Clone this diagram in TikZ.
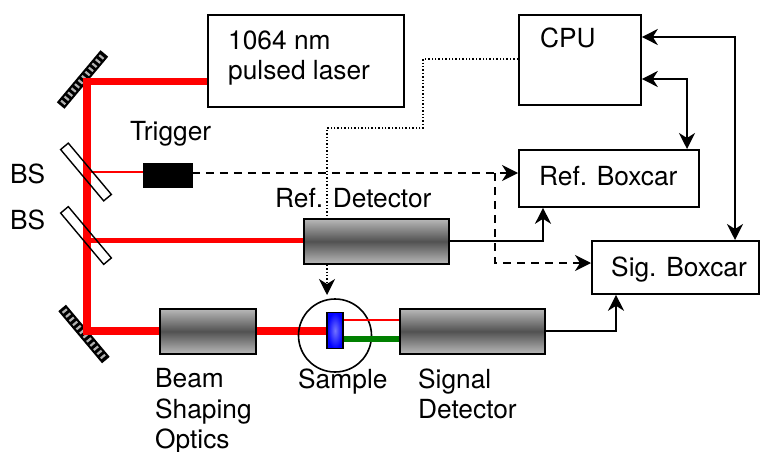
\documentclass[tikz,border=0pt]{standalone}
\usepackage{fontspec}
\setmainfont{TeX Gyre Heros}
\usetikzlibrary{arrows.meta}
\tikzset{
 x=1pt,y=-1pt,
 box/.style={draw=black,line width=1.8pt,fill=white,inner sep=0pt,anchor=north west},
 grad/.style={draw=black,line width=1.8pt,inner sep=0pt,anchor=north west,top color=gray!55,bottom color=gray!55,middle color=black!68,shading angle=0},
 lbl/.style={inner sep=0pt,font=\fontsize{26.3}{30.5}\selectfont,align=left},
 beamthick/.style={draw=red,line width=7.5pt},
 beammid/.style={draw=red,line width=5.5pt},
 beamthin/.style={draw=red,line width=2pt},
 wire/.style={draw=black,line width=1.8pt,-{Stealth[length=16pt,width=16pt,inset=5pt]}},
 wire2/.style={draw=black,line width=1.8pt,{Stealth[length=16pt,width=16pt,inset=5pt]}-{Stealth[length=16pt,width=16pt,inset=5pt]}},
 dwire/.style={wire,dash pattern=on 8pt off 6pt},
 dotw/.style={draw=black,line width=1.4pt,dotted},
 splitter/.style={draw=black,line width=1.4pt,inner sep=0pt,minimum width=67pt,minimum height=10pt,rotate=-50},
}
\newcommand{\hatchmirror}[4]{%
 \begin{scope}[shift={(#1,#2)},rotate=#3]
  \fill[black] (-#4,-5) rectangle (#4,5);
  \foreach \i in {-30,-24.6,...,31}{\draw[white!70!black,line width=2.2pt] (\i,-2.8) -- (\i,2.8);}
 \end{scope}}
\begin{document}
\begin{tikzpicture}
\useasboundingbox (0,0) rectangle (760,452);
\fill[white] (0,0) rectangle (760,452);
\coordinate (mt) at (87,81.5);
\coordinate (mb) at (87,331);
\coordinate (bs1) at (87,172);
\coordinate (bs2) at (87,240.5);
\hatchmirror{82.5}{79.5}{50}{34}
\hatchmirror{84}{334}{-50}{34}
\node[box,minimum width=196pt,minimum height=92pt] (laser) at (207,14) {};
\node[lbl,anchor=base west] at (228,80) {1064 nm\\pulsed laser};
\node[box,minimum width=122pt,minimum height=90pt] (cpu) at (518,14) {};
\node[lbl,anchor=base west] at (540,48) {CPU};
\node[box,minimum width=180pt,minimum height=57pt] (ref) at (518,149) {};
\node[lbl,anchor=base west] at (539,185) {Ref. Boxcar};
\node[box,minimum width=167pt,minimum height=53pt] (sig) at (591,240) {};
\node[lbl,anchor=base west] at (611,276) {Sig. Boxcar};
\node[grad,minimum width=145pt,minimum height=45pt] (rd) at (303,218) {};
\node[grad,minimum width=145pt,minimum height=45pt] (sd) at (399,308) {};
\node[grad,minimum width=96pt,minimum height=45pt] (bso) at (159,308) {};
\node[draw=black,fill=black,minimum width=49pt,minimum height=24pt,inner sep=0pt,anchor=north west] (trig) at (142.5,162.5) {};
\draw[beamthick] (laser.west|-mt) -- (mt) -- (mb) -- (bso.west|-mb);
\draw[beamthin] (bs1) -- (trig.west|-bs1);
\draw[beammid] (bs2) -- (rd.west|-bs2);
\node[splitter] (bsa) at (86,172) {};
\node[splitter] (bsb) at (86,235.5) {};
\coordinate (cuvin) at (330,331);
\draw[beamthick] (bso.east|-mb) -- (cuvin);
\node[draw=black,line width=1.6pt,circle,minimum size=73pt,inner sep=0pt] (samp) at (335,335.5) {};
\coordinate (sr) at (340,320);
\coordinate (sg) at (340,339);
\draw[beamthin] (sr) -- (sd.west|-sr);
\draw[draw=green!50!black,line width=5.5pt] (sg) -- (sd.west|-sg);
\node[draw=black,line width=1.6pt,minimum width=15.5pt,minimum height=36pt,inner sep=0pt,inner color=blue!55!white,outer color=blue] (cuv) at (335,330.5) {};
\node[lbl,anchor=base west] at (130,140) {Trigger};
\node[lbl,anchor=base west] at (10,183) {BS};
\node[lbl,anchor=base west] at (10,229) {BS};
\node[lbl,anchor=base west] at (275,207) {Ref. Detector};
\node[lbl,anchor=base west] at (298,388) {Sample};
\node[lbl,anchor=base west] at (155,448.5) {Beam\\Shaping\\Optics};
\node[lbl,anchor=base west] at (418,418.5) {Signal\\Detector};
\coordinate (jd) at (495,173);
\coordinate (jd2) at (495,263);
\coordinate (w1) at (543,241);
\coordinate (w2) at (616,331);
\coordinate (d1) at (423,59);
\coordinate (d2) at (423,128);
\coordinate (d3) at (327,128);
\coordinate (d4) at (327,295);
\coordinate (c1) at (687,79);
\coordinate (c2) at (735,37);
\draw[dwire] (trig.east|-jd) -- (ref.west|-jd);
\draw[dwire] (jd) -- (jd2) -- (sig.west|-jd2);
\draw[wire] (rd.east|-w1) -- (w1) -- (w1|-ref.south);
\draw[wire] (sd.east|-w2) -- (w2) -- (w2|-sig.south);
\draw[dotw] (cpu.west|-d1) -- (d1) -- (d2) -- (d3) -- (d3|-rd.north);
\draw[dotw,-{Stealth[length=16pt,width=16pt,inset=5pt]}] (d4|-rd.south) -- (d4);
\draw[wire2] (cpu.east|-c1) -- (c1) -- (c1|-ref.north);
\draw[wire2] (cpu.east|-c2) -- (c2) -- (c2|-sig.north);
\end{tikzpicture}
\end{document}
